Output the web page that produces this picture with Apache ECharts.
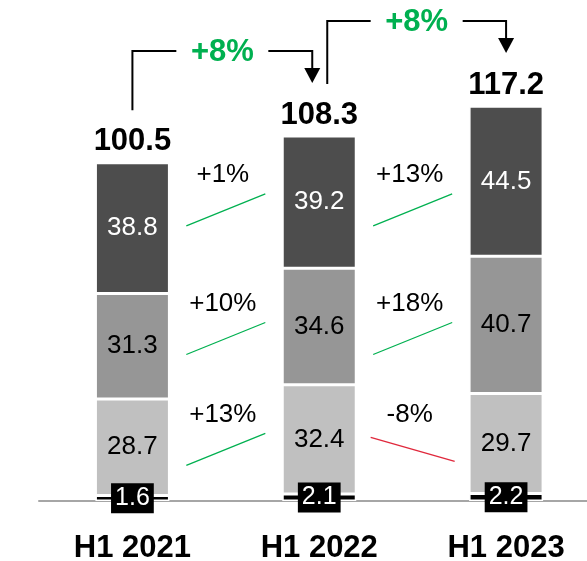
<!DOCTYPE html>
<html>
<head>
<meta charset="utf-8">
<style>
  html, body { margin: 0; padding: 0; background: #fff; }
  #chart { width: 587px; height: 561px; }
</style>
<script src="https://cdn.jsdelivr.net/npm/echarts@6/dist/echarts.min.js"></script>
</head>
<body>
<div id="chart"></div>
<script>
// Half-year figures, stacked from the bottom segment upwards
const categories = ['H1 2021', 'H1 2022', 'H1 2023'];
const baseValues = [1.6, 2.1, 2.2];
const lowerValues = [28.7, 32.4, 29.7];
const middleValues = [31.3, 34.6, 40.7];
const upperValues = [38.8, 39.2, 44.5];
const totals = [100.5, 108.3, 117.2];

// Period-on-period growth in percent (rows: lower, middle, upper segment)
const growthFirstPeriod = [13, 10, 1];
const growthSecondPeriod = [-8, 18, 13];
const totalGrowth = [8, 8];

const FONT = '"Liberation Sans", Arial, Helvetica, sans-serif';
const GREEN = '#00b050';
const RED = '#e0283c';

const segments = [lowerValues, middleValues, upperValues];

// Vertical anchor of each growth row: mean of the segment centres across the bars
const rowAnchors = segments.map((seg, r) => {
  let sum = 0;
  for (let b = 0; b < categories.length; b++) {
    let start = baseValues[b];
    for (let k = 0; k < r; k++) start += segments[k][b];
    sum += start + seg[b] / 2;
  }
  return sum / categories.length;
});

const growthData = [];
[growthFirstPeriod, growthSecondPeriod].forEach((row, g) => {
  row.forEach((pct, r) => growthData.push([g, rowAnchors[r], pct]));
});

const bracketData = totalGrowth.map((pct, i) => [i, totals[i], totals[i + 1], pct]);
const totalData = totals.map((v, i) => [i, v]);

const fmtPct = p => (p > 0 ? '+' : '') + p + '%';

function barSeries(name, data, color, labelColor, extraLabel) {
  return {
    name: name,
    type: 'bar',
    stack: 'total',
    barWidth: 74,
    data: data,
    itemStyle: { color: color, borderColor: '#ffffff', borderWidth: 1.5 },
    label: Object.assign({
      show: true,
      position: 'inside',
      color: labelColor,
      fontSize: 26,
      fontFamily: FONT
    }, extraLabel || {})
  };
}

const chart = echarts.init(document.getElementById('chart'), null, { renderer: 'canvas' });

chart.setOption({
  animation: false,
  backgroundColor: '#ffffff',
  // the plot area runs past the right edge so the last band is cut off there
  grid: {
    left: 39, top: 96.6, right: -12.5, bottom: 60,
    containLabel: false,
    outerBoundsMode: 'none'
  },
  xAxis: {
    type: 'category',
    data: categories,
    axisTick: { show: false },
    axisLine: { lineStyle: { color: '#a6a6a6', width: 2 } },
    axisLabel: {
      color: '#000',
      fontSize: 31,
      fontWeight: 'bold',
      fontFamily: FONT,
      margin: 32
    }
  },
  yAxis: {
    type: 'value',
    min: 0,
    max: 120,
    show: false,
    splitLine: { show: false }
  },
  series: [
    barSeries('base', baseValues, '#000000', '#ffffff', {
      backgroundColor: '#000000',
      padding: [3, 4, 2, 4],
      fontSize: 25
    }),
    barSeries('lower', lowerValues, '#c0c0c0', '#000000'),
    barSeries('middle', middleValues, '#969696', '#000000'),
    barSeries('upper', upperValues, '#4d4d4d', '#ffffff'),
    {
      name: 'totals',
      type: 'custom',
      data: totalData,
      encode: { x: 0, y: 1 },
      renderItem: function (params, api) {
        const p = api.coord([api.value(0), api.value(1)]);
        return {
          type: 'text',
          style: {
            text: String(api.value(1).toFixed(1)),
            x: p[0],
            y: p[1] - 21,
            align: 'center',
            verticalAlign: 'middle',
            fill: '#000',
            font: 'bold 31px ' + FONT
          }
        };
      }
    },
    {
      name: 'totalGrowth',
      type: 'custom',
      data: bracketData,
      encode: { x: 0, y: 1 },
      clip: false,
      renderItem: function (params, api) {
        const i = api.value(0);
        const from = api.coord([i, api.value(1)]);
        const to = api.coord([i + 1, api.value(2)]);
        const last = categories.length - 1;
        const sx = from[0] + (i > 0 ? 8 : 0);
        const ex = to[0] - (i + 1 < last ? 7 : 0);
        const sy = from[1] - 52;
        const tip = to[1] - 53;
        const hy = tip - 32;
        const mid = (sx + ex) / 2;
        const gap = 46;
        return {
          type: 'group',
          children: [
            {
              type: 'polyline',
              shape: { points: [[sx, sy], [sx, hy], [mid - gap, hy]] },
              style: { stroke: '#000', lineWidth: 2, fill: null }
            },
            {
              type: 'polyline',
              shape: { points: [[mid + gap, hy], [ex, hy], [ex, tip - 14]] },
              style: { stroke: '#000', lineWidth: 2, fill: null }
            },
            {
              type: 'polygon',
              shape: { points: [[ex - 8, tip - 15], [ex + 8, tip - 15], [ex, tip]] },
              style: { fill: '#000' }
            },
            {
              type: 'text',
              style: {
                text: fmtPct(api.value(3)),
                x: mid,
                y: hy + 1,
                align: 'center',
                verticalAlign: 'middle',
                fill: GREEN,
                font: 'bold 31px ' + FONT
              }
            }
          ]
        };
      }
    },
    {
      name: 'segmentGrowth',
      type: 'custom',
      data: growthData,
      encode: { x: 0, y: 1 },
      clip: false,
      renderItem: function (params, api) {
        const g = api.value(0);
        const a = api.coord([g, api.value(1)]);
        const b = api.coord([g + 1, api.value(1)]);
        const cx = (a[0] + b[0]) / 2;
        const cy = a[1];
        const pct = api.value(2);
        const up = pct >= 0;
        const hw = up ? 39.5 : 42;
        const hh = up ? 16 : 12;
        const ly = cy + 6;
        return {
          type: 'group',
          children: [
            {
              type: 'text',
              style: {
                text: fmtPct(pct),
                x: cx - 3,
                y: cy - 29,
                align: 'center',
                verticalAlign: 'middle',
                fill: '#000',
                font: '26px ' + FONT
              }
            },
            {
              type: 'line',
              shape: {
                x1: cx - hw, y1: up ? ly + hh : ly - hh,
                x2: cx + hw, y2: up ? ly - hh : ly + hh
              },
              style: { stroke: up ? GREEN : RED, lineWidth: 1.3 }
            }
          ]
        };
      }
    }
  ]
});
</script>
</body>
</html>
